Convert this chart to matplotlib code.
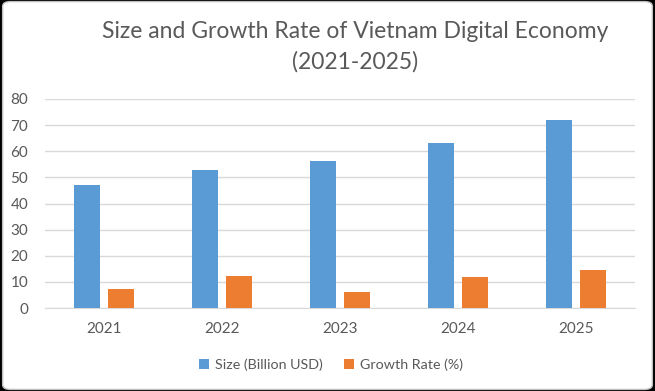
import matplotlib
matplotlib.use("Agg")
import matplotlib.pyplot as plt
from matplotlib.patches import FancyBboxPatch
import numpy as np

years = ["2021", "2022", "2023", "2024", "2025"]
size_busd = [47, 53, 56.3, 63, 72]
growth_pct = [7.3, 12.4, 6.0, 11.8, 14.5]
yticks = [0, 10, 20, 30, 40, 50, 60, 70, 80]

plt.rcParams['font.family'] = ['Lato', 'DejaVu Sans']

fig = plt.figure(figsize=(6.55, 3.91), dpi=100, facecolor='black')
bg = FancyBboxPatch((0.004, 0.004), 0.992, 0.992, boxstyle="round,pad=0,rounding_size=0.012",
                    transform=fig.transFigure, facecolor='white', edgecolor='#BFBFBF',
                    linewidth=1, zorder=-10)
fig.patches.append(bg)

ax = fig.add_axes([45/655, 1 - 308/391, 590/655, 209/391])
ax.set_zorder(2)
ax.set_facecolor('none')
x = np.arange(len(years))
w = 0.22
off = 0.144
ax.bar(x - off, size_busd, w, color='#5B9BD5', label='Size (Billion USD)', zorder=3)
ax.bar(x + off, growth_pct, w, color='#ED7D31', label='Growth Rate (%)', zorder=3)

ax.set_xlim(-0.5, len(years) - 0.5)
ax.set_ylim(0, 80)
ax.set_yticks(yticks)
ax.set_xticks(x)
ax.set_xticklabels(years)
ax.grid(axis='y', color='#D9D9D9', linewidth=1, zorder=0)
for s in ['top', 'right', 'left']:
    ax.spines[s].set_visible(False)
ax.spines['bottom'].set_color('#D9D9D9')
ax.tick_params(axis='both', length=0, colors='#595959', labelsize=11)
ax.tick_params(axis='y', pad=12)
ax.tick_params(axis='x', pad=10)

fig.text(355/655, 1 - 31/391, "Size and Growth Rate of Vietnam Digital Economy",
         ha='center', va='center', fontsize=16.5, color='#595959')
fig.text(355/655, 1 - 62/391, "(2021-2025)",
         ha='center', va='center', fontsize=16.5, color='#595959')

fig.legend(loc='center', bbox_to_anchor=(331/655, 1 - 365/391), ncol=2, frameon=False,
           fontsize=10.3, labelcolor='#595959', handlelength=0.7, handleheight=0.7,
           columnspacing=1.5, handletextpad=0.4)

fig.savefig("out.png", dpi=100, facecolor='black')
